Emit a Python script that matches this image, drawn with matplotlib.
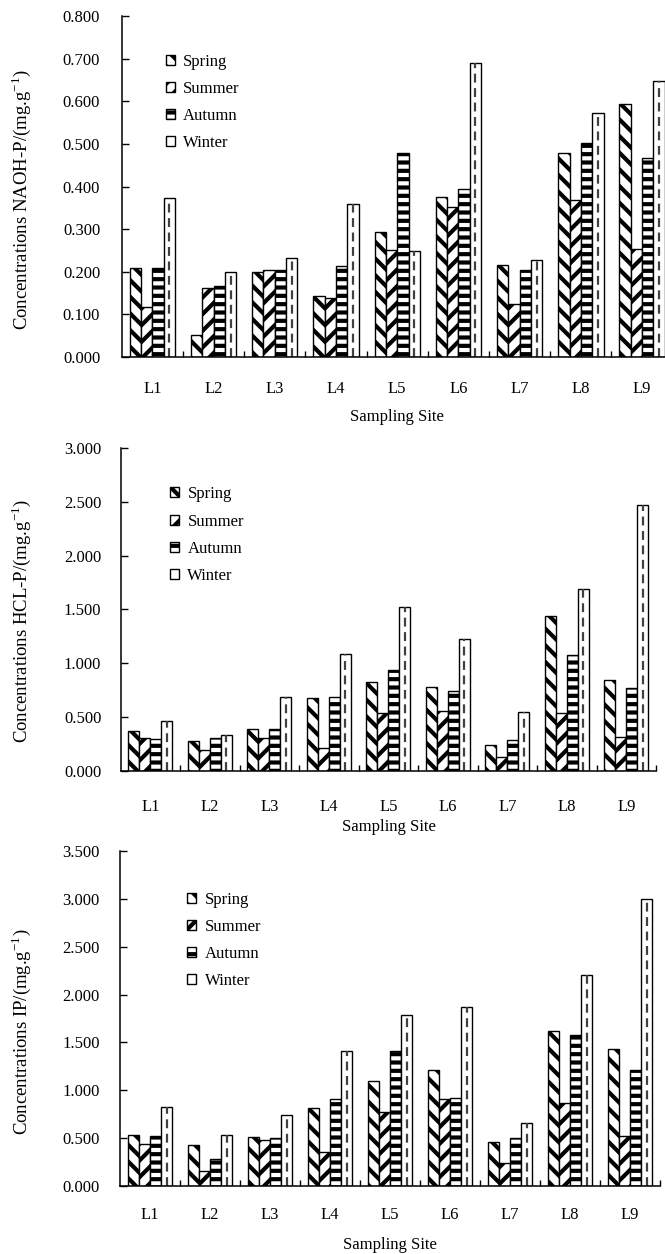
import numpy as np
import matplotlib
matplotlib.use('Agg')
import matplotlib.pyplot as plt
from matplotlib.ticker import FormatStrFormatter, MultipleLocator, FixedLocator

plt.rcParams['font.family'] = 'Liberation Serif'
plt.rcParams['mathtext.fontset'] = 'custom'
plt.rcParams['mathtext.rm'] = 'Liberation Serif'
plt.rcParams['hatch.linewidth'] = 3.0

sites = ['L1', 'L2', 'L3', 'L4', 'L5', 'L6', 'L7', 'L8', 'L9']
seasons = ['Spring', 'Summer', 'Autumn', 'Winter']

# NAOH-P
naoh_spring = [0.209, 0.052, 0.199, 0.142, 0.293, 0.375, 0.215, 0.479, 0.593]
naoh_summer = [0.117, 0.163, 0.203, 0.138, 0.252, 0.353, 0.125, 0.369, 0.254]
naoh_autumn = [0.210, 0.167, 0.203, 0.213, 0.479, 0.394, 0.204, 0.503, 0.468]
naoh_winter = [0.374, 0.199, 0.232, 0.358, 0.248, 0.691, 0.228, 0.572, 0.647]

# HCL-P
hcl_spring = [0.375, 0.279, 0.387, 0.681, 0.830, 0.783, 0.238, 1.440, 0.848]
hcl_summer = [0.310, 0.195, 0.310, 0.217, 0.542, 0.557, 0.133, 0.542, 0.313]
hcl_autumn = [0.297, 0.310, 0.387, 0.684, 0.938, 0.743, 0.285, 1.074, 0.768]
hcl_winter = [0.461, 0.337, 0.690, 1.084, 1.526, 1.223, 0.551, 1.693, 2.468]

# IP
ip_spring = [0.533, 0.432, 0.515, 0.819, 1.097, 1.216, 0.460, 1.620, 1.428]
ip_summer = [0.435, 0.157, 0.484, 0.355, 0.777, 0.906, 0.237, 0.867, 0.522]
ip_autumn = [0.519, 0.282, 0.505, 0.906, 1.411, 0.923, 0.502, 1.574, 1.209]
ip_winter = [0.829, 0.529, 0.742, 1.411, 1.783, 1.867, 0.655, 2.201, 3.000]

hatches = ['\\\\', '//', '--', '']
bar_w = 0.185


def draw_panel(ax, series, ylabel, ymax, ystep, ytick_pad, xtick_pad,
               xlabel_y, ylabel_xy, legend_xy):
    x = np.arange(len(sites))
    handles = []
    for i, vals in enumerate(series):
        bars = ax.bar(x + (i - 1.5) * bar_w, vals, bar_w, color='white',
                      edgecolor='black', linewidth=1.0, hatch=hatches[i],
                      label=seasons[i])
        handles.append(bars)
    # dashed line through the winter bars
    winter_bars = handles[3]
    cx = [r.get_x() + r.get_width() / 2 for r in winter_bars]
    ax.vlines(cx, 0, series[3], colors='0.25', linewidth=1.6,
              linestyles=(0, (4, 2.5)))

    ax.set_xlim(-0.5, len(sites) - 0.5)
    ax.set_ylim(0, ymax)
    ax.yaxis.set_major_locator(MultipleLocator(ystep))
    ax.yaxis.set_major_formatter(FormatStrFormatter('%.3f'))
    ax.set_xticks(x)
    ax.set_xticklabels(sites)
    ax.xaxis.set_minor_locator(FixedLocator(np.arange(0.5, len(sites), 1.0)))
    ax.tick_params(axis='x', which='major', length=0, pad=xtick_pad, labelsize=12)
    ax.tick_params(axis='x', which='minor', direction='in', length=4, width=1.0)
    ax.tick_params(axis='y', direction='in', length=5, width=1.0,
                   pad=ytick_pad, labelsize=12)
    for s in ['top', 'right']:
        ax.spines[s].set_visible(False)
    for s in ['left', 'bottom']:
        ax.spines[s].set_linewidth(1.1)

    ax.set_xlabel('Sampling Site', fontsize=12)
    ax.xaxis.set_label_coords(0.5, xlabel_y)
    ax.set_ylabel(ylabel, fontsize=13.5)
    ax.yaxis.set_label_coords(*ylabel_xy)

    ax.legend(handles, seasons, loc='upper left', bbox_to_anchor=legend_xy,
              frameon=False, fontsize=12, handlelength=0.55, handleheight=0.55,
              handletextpad=0.5, labelspacing=0.67, borderpad=0,
              borderaxespad=0)


fig = plt.figure(figsize=(6.65, 12.54), dpi=100)
ax1 = fig.add_axes([0.183, 0.7153, 0.8286, 0.2719])
ax2 = fig.add_axes([0.1815, 0.3852, 0.8053, 0.2576])
ax3 = fig.add_axes([0.1805, 0.0542, 0.8120, 0.2671])

draw_panel(ax1, [naoh_spring, naoh_summer, naoh_autumn, naoh_winter],
           'Concentrations NAOH-P/(mg.g$^{-1}$)', 0.8, 0.1, 15.5, 17,
           -0.1525, (-0.161, 0.46), (0.080, 0.890))
draw_panel(ax2, [hcl_spring, hcl_summer, hcl_autumn, hcl_winter],
           'Concentrations HCL-P/(mg.g$^{-1}$)', 3.0, 0.5, 14, 20,
           -0.149, (-0.164, 0.464), (0.092, 0.881))
draw_panel(ax3, [ip_spring, ip_summer, ip_autumn, ip_winter],
           'Concentrations IP/(mg.g$^{-1}$)', 3.5, 0.5, 14.5, 15,
           -0.152, (-0.161, 0.46), (0.124, 0.879))

fig.savefig('out.png', dpi=100)
